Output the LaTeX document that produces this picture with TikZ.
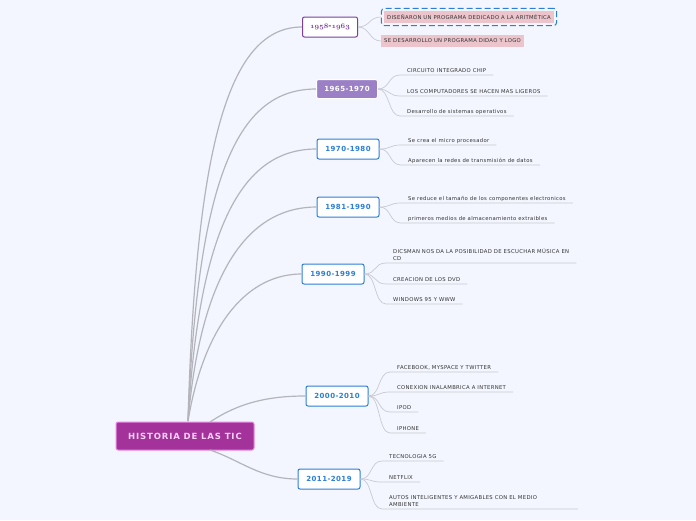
\documentclass[tikz,border=0pt]{standalone}
\usepackage{fontspec}
\usetikzlibrary{fit}
\setmainfont{DejaVu Sans}
\definecolor{fond}{HTML}{F3F6FE}
\definecolor{racine}{HTML}{A3339B}
\definecolor{racinebord}{HTML}{E98BE2}
\definecolor{bleu}{HTML}{2B7FD8}
\definecolor{violet}{HTML}{7A3E9D}
\definecolor{lavande}{HTML}{9C80C6}
\definecolor{rose}{HTML}{EBC4CC}
\definecolor{branche}{HTML}{B4B4BC}
\definecolor{brin}{HTML}{C9C9D2}
\tikzset{
  racinebox/.style={draw=racinebord,fill=racine,line width=1pt,rounded corners=2pt,
    minimum width=138pt,minimum height=28pt,text=racinebord!40!white,
    font=\fontsize{8.5}{9}\selectfont\bfseries\addfontfeatures{LetterSpace=10}},
  periode/.style={draw=bleu,fill=white,line width=1pt,rounded corners=2pt,
    minimum width=62pt,minimum height=20pt,text=bleu,
    font=\fontsize{7}{8}\selectfont\bfseries\addfontfeatures{LetterSpace=6}},
  idee/.style={anchor=south west,inner xsep=7pt,inner ysep=2.5pt,text depth=0pt,
    align=left,text=black!80,font=\fontsize{5.3}{7}\selectfont\addfontfeatures{LetterSpace=6}},
  rosebox/.style={fill=rose,inner xsep=3pt,minimum height=12pt,text=black!80,
    font=\fontsize{5.3}{6}\selectfont\addfontfeatures{LetterSpace=6}},
  branch/.style={draw=branche,line width=1.2pt},
  twig/.style={draw=brin,line width=0.7pt}
}
\begin{document}
\begin{tikzpicture}[x=1pt,y=-1pt]
\useasboundingbox (0,0) rectangle (696,520);
\fill[fond] (0,0) rectangle (696,520);
%Noeud central
\node[racinebox] (root) at (185,436) {HISTORIA DE LAS TIC};
\coordinate (hub) at (188,421);
\coordinate (hubA) at (210,422);
\coordinate (hubB) at (210,450);
%Periodes
\node[periode,draw=violet,text=violet,minimum width=55pt,
  font=\fontsize{7.5}{8}\usefont{OML}{cmm}{b}{it}] (P1) at (330,27) {1958{\normalfont\bfseries -}1963};
\node[periode,draw=white,fill=lavande,text=white,minimum width=61pt,minimum height=19pt] (P2) at (347,89) {1965-1970};
\node[periode] (P3) at (348,149) {1970-1980};
\node[periode] (P4) at (348,207) {1981-1990};
\node[periode] (P5) at (333,274) {1990-1999};
\node[periode] (P6) at (337,396) {2000-2010};
\node[periode] (P7) at (329,479) {2011-2019};
%Branches principales
\draw[branch] (hub) .. controls (196,140) and (230,27) .. (P1.west);
\draw[branch] (hub) .. controls (198,170) and (240,89) .. (P2.west);
\draw[branch] (hub) .. controls (200,210) and (250,149) .. (P3.west);
\draw[branch] (hub) .. controls (202,260) and (255,207) .. (P4.west);
\draw[branch] (hub) .. controls (205,320) and (250,274) .. (P5.west);
\draw[branch] (hubA) .. controls (240,402) and (270,396) .. (P6.west);
\draw[branch] (hubB) .. controls (240,460) and (260,479) .. (P7.west);
%Idees 1958-1963
\node[rosebox] (S11) at (469,17) {DISEÑARON UN PROGRAMA DEDICADO A LA ARITMÉTICA};
\node[draw=bleu,dash pattern=on 6pt off 3pt,line width=1pt,rounded corners=3pt,fit=(S11),inner sep=2.5pt] (C11) {};
\node[rosebox,anchor=west] (S12) at (381,41) {SE DESARROLLO UN PROGRAMA DIDAO Y LOGO};
\draw[twig] (P1.east) .. controls +(12,0) and +(-12,0) .. (C11.west);
\draw[twig] (P1.east) .. controls +(12,0) and +(-12,0) .. (S12.west);
%Idees 1965-1970
\node[idee] (S21) at (400,75) {CIRCUITO INTEGRADO CHIP};
\node[idee] (S22) at (400,96) {LOS COMPUTADORES SE HACEN MAS LIGEROS};
\node[idee] (S23) at (400,116) {Desarrollo de sistemas operativos};
\foreach \s in {S21,S22,S23}
  \draw[twig] (P2.east) .. controls +(12,0) and +(-12,0) .. (\s.south west) -- (\s.south east);
%Idees 1970-1980
\node[idee] (S31) at (401,145) {Se crea el micro procesador};
\node[idee] (S32) at (401,165) {Aparecen la redes de transmisión de datos};
\foreach \s in {S31,S32}
  \draw[twig] (P3.east) .. controls +(12,0) and +(-12,0) .. (\s.south west) -- (\s.south east);
%Idees 1981-1990
\node[idee] (S41) at (401,203) {Se reduce el tamaño de los componentes electronicos};
\node[idee] (S42) at (401,223) {primeros medios de almacenamiento extraibles};
\foreach \s in {S41,S42}
  \draw[twig] (P4.east) .. controls +(12,0) and +(-12,0) .. (\s.south west) -- (\s.south east);
%Idees 1990-1999
\node[idee] (S51) at (386,263) {DICSMAN NOS DA LA POSIBILIDAD DE ESCUCHAR MÚSICA EN\\CD};
\node[idee] (S52) at (386,284) {CREACION DE LOS DVD};
\node[idee] (S53) at (386,304) {WINDOWS 95 Y WWW};
\foreach \s in {S51,S52,S53}
  \draw[twig] (P5.east) .. controls +(12,0) and +(-12,0) .. (\s.south west) -- (\s.south east);
%Idees 2000-2010
\node[idee] (S61) at (390,372) {FACEBOOK, MYSPACE Y TWITTER};
\node[idee] (S62) at (390,392) {CONEXION INALAMBRICA A INTERNET};
\node[idee] (S63) at (390,412) {IPOD};
\node[idee] (S64) at (390,433) {IPHONE};
\foreach \s in {S61,S62,S63,S64}
  \draw[twig] (P6.east) .. controls +(12,0) and +(-12,0) .. (\s.south west) -- (\s.south east);
%Idees 2011-2019
\node[idee] (S71) at (382,461) {TECNOLOGIA 5G};
\node[idee] (S72) at (382,482) {NETFLIX};
\node[idee] (S73) at (382,509) {AUTOS INTELIGENTES Y AMIGABLES CON EL MEDIO\\AMBIENTE};
\coordinate (F73) at (578,509);
\foreach \s in {S71,S72}
  \draw[twig] (P7.east) .. controls +(12,0) and +(-12,0) .. (\s.south west) -- (\s.south east);
\draw[twig] (P7.east) .. controls +(12,0) and +(-12,0) .. (S73.south west) -- (F73);
\end{tikzpicture}
\end{document}
